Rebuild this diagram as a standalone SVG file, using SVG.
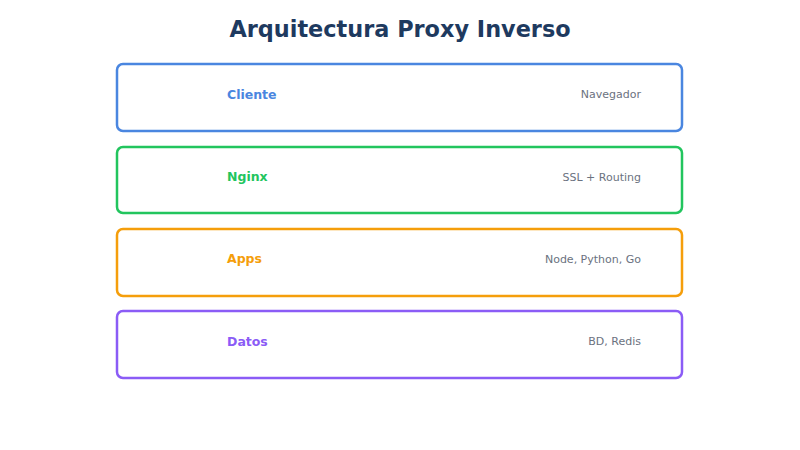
<svg xmlns="http://www.w3.org/2000/svg" width="800" height="450" viewBox="0 0 800 450">
<style>
.title{font-family:"DejaVu Sans",sans-serif;font-size:22.4px;font-weight:bold;fill:#1e3a5f}
.box{fill:#ffffff;stroke-width:2.5}
.lbl{font-family:"DejaVu Sans",sans-serif;font-size:12.5px;font-weight:bold}
.sub{font-family:"DejaVu Sans",sans-serif;font-size:11px;fill:#6b7280;text-anchor:end}
</style>
<rect width="800" height="450" fill="#ffffff"/>
<text class="title" x="400" y="36.5" text-anchor="middle">Arquitectura Proxy Inverso</text>
<g id="cliente">
<rect class="box" x="117" y="64" width="565" height="67" rx="6" stroke="#4a86e0"/>
<text class="lbl" x="227" y="98.5" fill="#4a86e0">Cliente</text>
<text class="sub" x="641" y="98">Navegador</text>
</g>
<g id="nginx">
<rect class="box" x="117" y="147" width="565" height="66" rx="6" stroke="#22c55e"/>
<text class="lbl" x="227" y="181" fill="#22c55e">Nginx</text>
<text class="sub" x="641" y="180.5">SSL + Routing</text>
</g>
<g id="apps">
<rect class="box" x="117" y="229" width="565" height="67" rx="6" stroke="#f59e0b"/>
<text class="lbl" x="227" y="263" fill="#f59e0b">Apps</text>
<text class="sub" x="641" y="262.5">Node, Python, Go</text>
</g>
<g id="datos">
<rect class="box" x="117" y="311" width="565" height="67" rx="6" stroke="#8b5cf6"/>
<text class="lbl" x="227" y="345.5" fill="#8b5cf6">Datos</text>
<text class="sub" x="641" y="345">BD, Redis</text>
</g>
<g id="connectors"></g>
</svg>
